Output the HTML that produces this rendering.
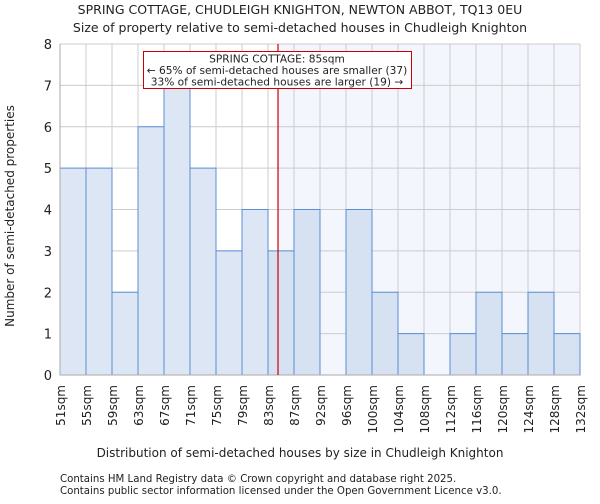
<!DOCTYPE html>
<html><head><meta charset="utf-8"><style>
body{margin:0;background:#fff;font-family:"DejaVu Sans","Liberation Sans",sans-serif}
svg text{font-family:"DejaVu Sans","Liberation Sans",sans-serif;fill:#222}
</style></head><body>
<svg id="c" width="600" height="500">
<text x="300" y="14" font-size="12.5" text-anchor="middle">SPRING COTTAGE, CHUDLEIGH KNIGHTON, NEWTON ABBOT, TQ13 0EU</text>
<text x="300" y="32" font-size="12.5" text-anchor="middle">Size of property relative to semi-detached houses in Chudleigh Knighton</text>
<g id="plot"></g>
<text x="300" y="457" font-size="12" text-anchor="middle">Distribution of semi-detached houses by size in Chudleigh Knighton</text>
<text transform="translate(14,216) rotate(-90)" font-size="12" text-anchor="middle">Number of semi-detached properties</text>
<text x="60" y="482" font-size="10.2">Contains HM Land Registry data © Crown copyright and database right 2025.</text>
<text x="60" y="494" font-size="10.2">Contains public sector information licensed under the Open Government Licence v3.0.</text>
</svg>
<script>
const categories=["51sqm","55sqm","59sqm","63sqm","67sqm","71sqm","75sqm","79sqm","83sqm","87sqm","92sqm","96sqm","100sqm","104sqm","108sqm","112sqm","116sqm","120sqm","124sqm","128sqm","132sqm"];
const counts=[5,5,2,6,7,5,3,4,3,4,0,4,2,1,0,1,2,1,2,1];
const yTicks=[0,1,2,3,4,5,6,7,8];
const markerBin=8.385;
const NS="http://www.w3.org/2000/svg";
const g=document.getElementById('plot');
const X0=60,X1=580,Y0=375,Y1=44,n=counts.length;
const xs=i=>X0+i*(X1-X0)/n;
const ys=v=>Y0-v*(Y0-Y1)/8;
function el(t,a){const e=document.createElementNS(NS,t);for(const k in a)e.setAttribute(k,a[k]);g.appendChild(e);return e;}
const mx=xs(markerBin);
let e=el('rect',{x:mx,y:Y1,width:X1-mx,height:Y0-Y1,fill:'#f3f6fd'});


yTicks.forEach(v=>{
 let l=el('line',{x1:X0,x2:X1,y1:ys(v),y2:ys(v),stroke:'#cccccc','stroke-width':1});
 
 
 let t=el('text',{x:X0-8,y:ys(v)+5,'font-size':13,'text-anchor':'end'});t.textContent=v;
 
 
});
categories.forEach((c,i)=>{
 let l=el('line',{x1:xs(i),x2:xs(i),y1:Y1,y2:Y0,stroke:'#cccccc','stroke-width':1});
 
 
 let t=el('text',{transform:`translate(${xs(i)+5},${Y0+10}) rotate(-90)`,'font-size':12,'text-anchor':'end'});t.textContent=c;
 
 
});
counts.forEach((v,i)=>{
 if(v<=0)return;
 let r=el('rect',{x:xs(i),y:ys(v),width:xs(i+1)-xs(i),height:ys(0)-ys(v),fill:xs(i)>=mx-13?'#d6e1f2':'#dde6f4',stroke:'#5b8fd4','stroke-width':1});
 
 
});
let ax=el('path',{d:`M${X0},${Y1}V${Y0}H${X1}`,fill:'none',stroke:'#aaaaaa'});


let m=el('line',{x1:mx,x2:mx,y1:Y1,y2:Y0,stroke:'#cc0000','stroke-width':1.2});


let b=el('rect',{x:143.5,y:51.5,width:268,height:37,fill:'#fff',stroke:'#cc0000','stroke-width':1});


["SPRING COTTAGE: 85sqm","← 65% of semi-detached houses are smaller (37)","33% of semi-detached houses are larger (19) →"].forEach((s,i)=>{
 let t=el('text',{x:277,y:62.5+i*11.5,'font-size':10.6,'text-anchor':'middle'});t.textContent=s;
 
 
});
</script>
</body></html>
